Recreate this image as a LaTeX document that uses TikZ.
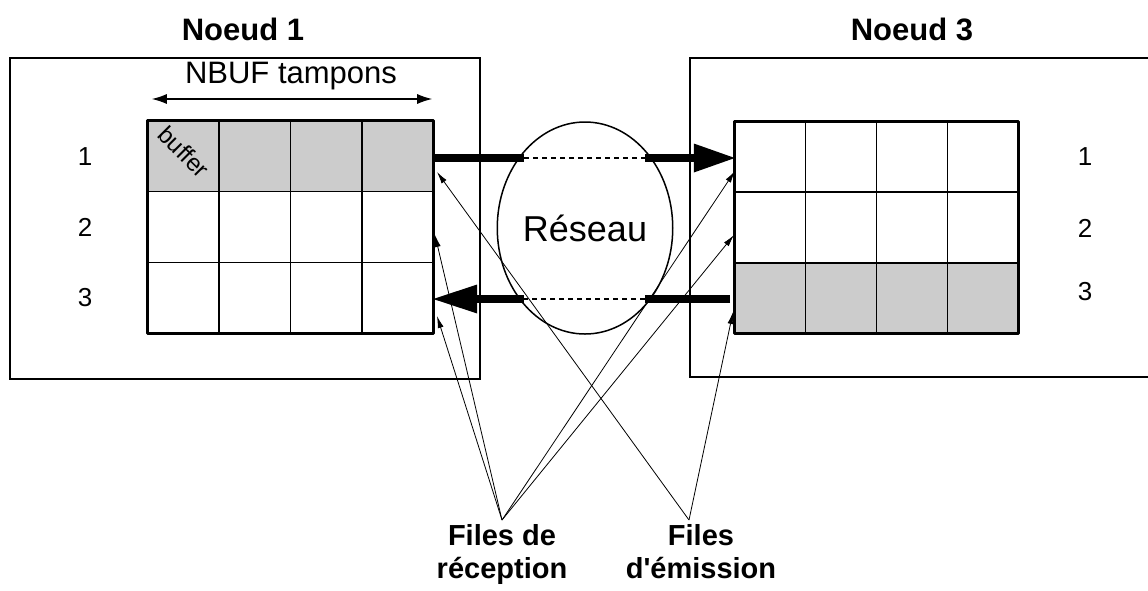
\documentclass[tikz,border=0pt]{standalone}
\usepackage{fontspec}
\setmainfont{Liberation Sans}
\usetikzlibrary{arrows.meta,calc,shapes.geometric}
\definecolor{cellgray}{RGB}{204,204,204}
\tikzset{
  frame/.style={line width=2.4pt},
  gridshape/.style={draw=none,inner sep=0pt,minimum width=#1,minimum height=212pt},
  gridborder/.style={line width=3pt,line join=round},
  cellline/.style={line width=1.6pt},
  title/.style={font=\fontsize{31}{35}\selectfont\bfseries},
  rowlbl/.style={font=\fontsize{26}{30}\selectfont},
  bigline/.style={line width=8pt},
  dashline/.style={line width=2pt,dash pattern=on 5pt off 4pt},
  pointer/.style={line width=0.8pt,-{Latex[length=12pt,width=6pt]}},
  caption/.style={font=\fontsize{29}{33}\selectfont\bfseries,align=center,anchor=north},
}
\begin{document}
\begin{tikzpicture}[x=1pt,y=-1pt]
\useasboundingbox (0,0) rectangle (1148,590);

% enclosing frames of the two nodes
\draw[frame] (10,58) rectangle (480,379);
\draw[frame] (1150,58) -- (690,58) -- (690,377) -- (1150,377);

\node[title] (t1) at (243,29) {Noeud 1};
\node[title] (t3) at (912,29) {Noeud 3};

% buffer grids
\node[gridshape=285pt] (gL) at (290.5,227) {};
\node[gridshape=283pt] (gR) at (876.5,227.5) {};

\fill[cellgray] (gL.north west) rectangle ($(gL.north east)!1/3!(gL.south east)$);
\fill[cellgray] ($(gR.north west)!2/3!(gR.south west)$) rectangle (gR.south east);
\foreach \g in {gL,gR}{
  \foreach \f in {1/3,2/3}
    \draw[cellline] ($(\g.north west)!\f!(\g.south west)$) -- ($(\g.north east)!\f!(\g.south east)$);
  \foreach \f in {0.25,0.5,0.75}
    \draw[cellline] ($(\g.north west)!\f!(\g.north east)$) -- ($(\g.south west)!\f!(\g.south east)$);
  \draw[gridborder] (\g.north west) rectangle (\g.south east);
}

\node[rotate=-45,inner sep=0pt,font=\fontsize{24}{26}\selectfont] (buf) at (184,152) {buffer};

% buffer count
\node[font=\fontsize{31}{35}\selectfont] (nbuf) at (291,76) {NBUF tampons};
\coordinate (nbL) at (gL.north west |- 0,99);
\coordinate (nbR) at (gL.north east |- 0,99);
\draw[line width=1.2pt,{Latex[length=15pt,width=10pt]}-{Latex[length=15pt,width=10pt]}] ([xshift=4pt]nbL) -- ([xshift=-1pt]nbR);

% queue numbers
\node[rowlbl] (l1) at (85,157) {1};
\node[rowlbl] (l2) at (85,227) {2};
\node[rowlbl] (l3) at (85,298) {3};
\node[rowlbl] (r1) at (1085,157) {1};
\node[rowlbl] (r2) at (1085,228) {2};
\node[rowlbl] (r3) at (1085,292) {3};

% network
\node[ellipse,draw,line width=1.5pt,minimum width=164pt,minimum height=212pt,inner sep=0pt,
      font=\fontsize{36}{40}\selectfont] (net) at (585,228) {R\'eseau};

% traffic between the nodes
\coordinate (o1) at (gL.east |- 0,158);
\coordinate (n1w) at (524,158);
\coordinate (n1e) at (645,158);
\coordinate (i1) at (gR.west |- 0,158);
\draw[bigline] (o1) -- (n1w);
\draw[dashline] (n1w) -- (n1e);
\draw[bigline,-{Triangle[length=41pt,width=29pt,line width=0pt]}] (n1e) -- (i1);

\coordinate (o3) at (730,299);
\coordinate (n3e) at (645,299);
\coordinate (n3w) at (524,299);
\coordinate (i3) at (gL.east |- 0,299);
\draw[bigline] (o3) -- (n3e);
\draw[dashline] (n3e) -- (n3w);
\draw[bigline,-{Triangle[length=44pt,width=29pt,line width=0pt]}] (n3w) -- (i3);

% queue entry points
\coordinate (qL1) at (437,172);
\coordinate (qL2) at (435,235);
\coordinate (qL3) at (437,316);
\coordinate (qR1) at (735,171);
\coordinate (qR2) at (734,235);
\coordinate (qR3) at (733,312);

% legends
\node[caption] (rec) at (502,521) {Files de\\r\'eception};
\node[caption] (emi) at (701,521) {Files\\d\textquotesingle\'emission};
\coordinate (recP) at (502,520);
\coordinate (emiP) at (689,520);

\draw[pointer] (recP) -- (qL2);
\draw[pointer] (recP) -- (qL3);
\draw[pointer] (recP) -- (qR1);
\draw[pointer] (recP) -- (qR2);
\draw[pointer] (emiP) -- (qL1);
\draw[pointer] (emiP) -- (qR3);
\end{tikzpicture}
\end{document}
